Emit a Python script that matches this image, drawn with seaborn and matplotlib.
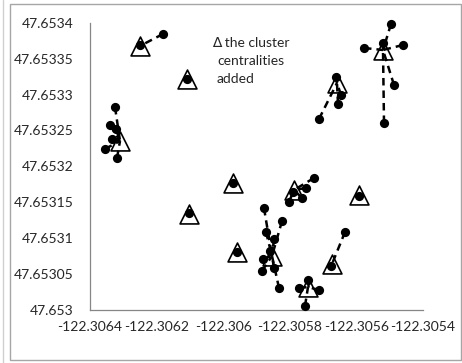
import numpy as np
import pandas as pd
import matplotlib
matplotlib.use("Agg")
import matplotlib.pyplot as plt
import seaborn as sns
from matplotlib.patches import Rectangle
from matplotlib.lines import Line2D

# Cluster centres (longitude / latitude), one per cluster
centre_lon = [-122.3062498, -122.3061087, -122.3063099, -122.3055201, -122.3056583,
              -122.3057874, -122.3059706, -122.3061027, -122.3059586, -122.3055922,
              -122.3056733, -122.3058535, -122.3057453]
centre_lat = [47.6533676, 47.6533216, 47.6532353, 47.6533620, 47.6533161,
              47.6531671, 47.6531768, 47.6531337, 47.6530808, 47.6531601,
              47.6530640, 47.6530752, 47.6530320]

# Observed locations and the cluster each belongs to
point_lon = [-122.3062498, -122.3061808,
             -122.3061087,
             -122.3063249, -122.3063399, -122.3063219, -122.3063339, -122.3063550, -122.3063189,
             -122.3055201, -122.3054961, -122.3055772, -122.3054601, -122.3054871, -122.3055171,
             -122.3056613, -122.3056462, -122.3056553, -122.3057123,
             -122.3057273, -122.3057514, -122.3057904, -122.3058024, -122.3057634,
             -122.3059706,
             -122.3061027,
             -122.3059586,
             -122.3055922,
             -122.3056342, -122.3056763,
             -122.3058775, -122.3058715, -122.3058234, -122.3058474, -122.3058595,
             -122.3058805, -122.3058474, -122.3058835, -122.3058324,
             -122.3057453, -122.3057724, -122.3057123, -122.3057544]
point_lat = [47.6533690, 47.6533843,
             47.6533216,
             47.6532826, 47.6532576, 47.6532520, 47.6532381, 47.6532242, 47.6532116,
             47.6533717, 47.6533982, 47.6533648, 47.6533690, 47.6533133, 47.6532604,
             47.6533244, 47.6532993, 47.6532868, 47.6532659,
             47.6531838, 47.6531699, 47.6531643, 47.6531504, 47.6531559,
             47.6531768,
             47.6531351,
             47.6530808,
             47.6531587,
             47.6531086, 47.6530613,
             47.6531420, 47.6531086, 47.6531239, 47.6530989, 47.6530821,
             47.6530710, 47.6530585, 47.6530543, 47.6530306,
             47.6530418, 47.6530306, 47.6530278, 47.6530056]
point_cluster = [0, 0,
                 1,
                 2, 2, 2, 2, 2, 2,
                 3, 3, 3, 3, 3, 3,
                 4, 4, 4, 4,
                 5, 5, 5, 5, 5,
                 6,
                 7,
                 8,
                 9,
                 10, 10,
                 11, 11, 11, 11, 11, 11, 11, 11, 11,
                 12, 12, 12, 12]

x_ticks = [-122.3064, -122.3062, -122.3060, -122.3058, -122.3056, -122.3054]
x_tick_labels = ["-122.3064", "-122.3062", "-122.306", "-122.3058", "-122.3056", "-122.3054"]
y_ticks = [47.6530, 47.65305, 47.6531, 47.65315, 47.6532, 47.65325, 47.6533, 47.65335, 47.6534]
y_tick_labels = ["47.653", "47.65305", "47.6531", "47.65315", "47.6532", "47.65325",
                 "47.6533", "47.65335", "47.6534"]
note_lines = ["\u2206 the cluster", "centralities", "added"]

centres = pd.DataFrame({"lon": centre_lon, "lat": centre_lat})
points = pd.DataFrame({"lon": point_lon, "lat": point_lat, "cluster": point_cluster})

sns.set_theme(style="white")
plt.rcParams["font.family"] = ["Lato", "DejaVu Sans"]

W, H = 462, 363
fig = plt.figure(figsize=(W / 100, H / 100), dpi=100)
ax = fig.add_axes([90 / W, 1 - 310 / H, (423 - 90) / W, (310 - 22.7) / H])

axis_grey = "#868686"
text_col = "#262626"

# open triangles marking the centres
sns.scatterplot(data=centres, x="lon", y="lat", marker="^", s=185,
                facecolor="white", edgecolor="black", linewidth=1.2,
                ax=ax, zorder=2, legend=False, clip_on=False)

# dashed spokes from each location to its cluster centre
for lon, lat, c in zip(points["lon"], points["lat"], points["cluster"]):
    ax.plot([lon, centres.loc[c, "lon"]], [lat, centres.loc[c, "lat"]],
            color="black", linewidth=1.8, linestyle=(0, (3, 2)),
            solid_capstyle="butt", dash_capstyle="butt", zorder=3, clip_on=False)

# the locations themselves
sns.scatterplot(data=points, x="lon", y="lat", marker="o", s=44,
                color="black", edgecolor="black", linewidth=0,
                ax=ax, zorder=4, legend=False, clip_on=False)

ax.set_xlim(x_ticks[0], x_ticks[-1])
ax.set_ylim(y_ticks[0], y_ticks[-1])
ax.set_xticks(x_ticks)
ax.set_xticklabels(x_tick_labels)
ax.set_yticks(y_ticks)
ax.set_yticklabels(y_tick_labels)
ax.set_xlabel("")
ax.set_ylabel("")
ax.tick_params(axis="both", which="major", direction="out", length=4, width=0.9,
               color=axis_grey, labelsize=10, labelcolor=text_col)
ax.tick_params(axis="y", pad=8)
ax.tick_params(axis="x", pad=4)
for side in ["top", "right"]:
    ax.spines[side].set_visible(False)
for side in ["left", "bottom"]:
    ax.spines[side].set_color(axis_grey)
    ax.spines[side].set_linewidth(0.9)
ax.patch.set_alpha(0)

# annotation block
note_pos = [(212, 43), (217, 61), (217, 79)]
for (px, py), txt in zip(note_pos, note_lines):
    fig.text(px / W, 1 - py / H, txt, fontsize=10, color=text_col,
             ha="left", va="center")

# chart-area frame
fig.patches.append(Rectangle((10 / W, 1 - 360 / H), (461 - 10) / W, (360 - 4) / H,
                             transform=fig.transFigure, fill=False,
                             edgecolor="#a6a6a6", linewidth=1.0))
fig.lines.append(Line2D([2.5 / W, 2.5 / W], [0, 1], transform=fig.transFigure,
                        color="#d0d0d0", linewidth=1.0))

fig.savefig("out.png", dpi=100)
